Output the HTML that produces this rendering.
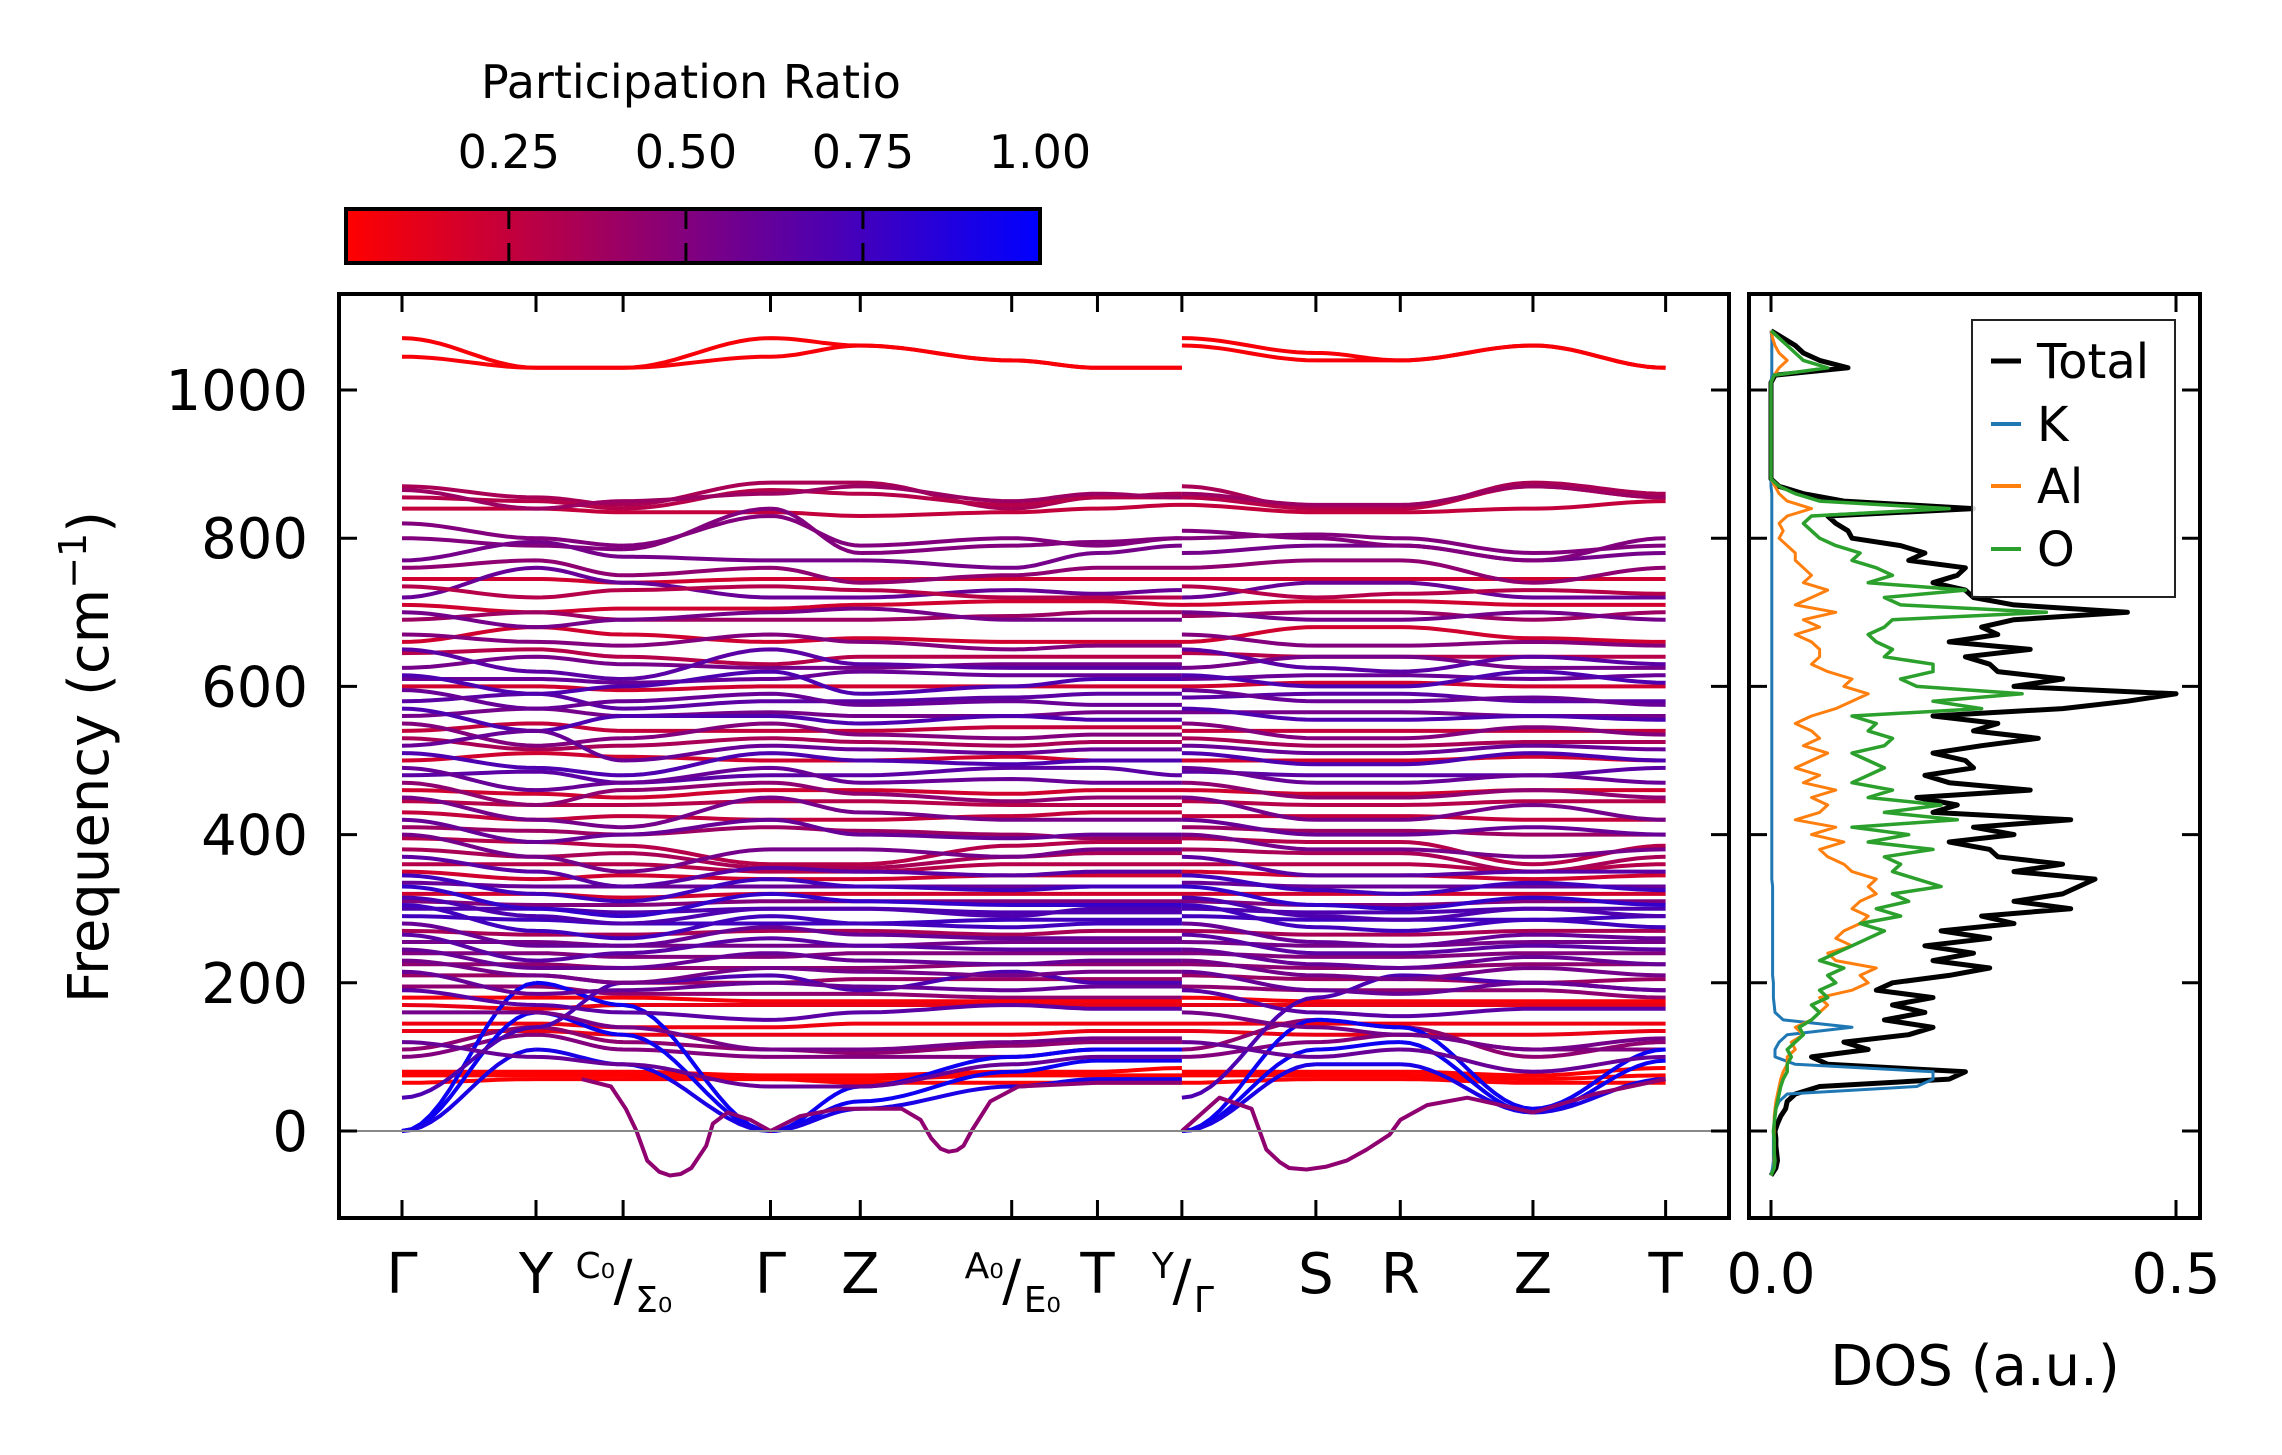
<!DOCTYPE html>
<html><head><meta charset="utf-8">
<style>
html,body{margin:0;padding:0;background:#fff;}
svg{display:block;font-family:"DejaVu Sans","Liberation Sans",sans-serif;}
</style></head>
<body>
<svg id="fig" width="2282" height="1455" viewBox="0 0 2282 1455" xmlns="http://www.w3.org/2000/svg">
<defs>
<linearGradient id="cbgrad" x1="0" x2="1" y1="0" y2="0">
<stop offset="0" stop-color="#ff0000"/><stop offset="1" stop-color="#0000ff"/>
</linearGradient>
<clipPath id="mainclip"><rect x="339" y="294" width="1390" height="924"/></clipPath>
<clipPath id="dosclip"><rect x="1749" y="294" width="451" height="924"/></clipPath>
</defs>
<rect width="2282" height="1455" fill="#fff"/>
<g>
<text x="691" y="98" font-size="46" text-anchor="middle">Participation Ratio</text>
<rect x="346" y="209" width="694" height="54" fill="url(#cbgrad)" stroke="#000" stroke-width="4"/>
<g id="cbticks"></g>
</g>
<g id="main">
<g id="bands" clip-path="url(#mainclip)"></g>
<line x1="339" x2="1729" y1="1131" y2="1131" stroke="#888" stroke-width="2"/>
<rect x="339" y="294" width="1390" height="924" fill="none" stroke="#000" stroke-width="4"/>
<g id="mainticks"></g>
<text transform="translate(108,757) rotate(-90)" font-size="56" text-anchor="middle">Frequency (cm<tspan dy="-22" font-size="38">−1</tspan><tspan dy="22">)</tspan></text>
</g>
<g id="dos">
<g id="dosLines" clip-path="url(#dosclip)"></g>
<rect x="1749" y="294" width="451" height="924" fill="none" stroke="#000" stroke-width="4"/>
<g id="dosticks"></g>
<text x="1975" y="1385" font-size="56" text-anchor="middle">DOS (a.u.)</text>
<g>
<rect x="1972" y="320" width="203" height="277" fill="#fff" fill-opacity="0.85" stroke="#222" stroke-width="2"/>
<line x1="1991" x2="2021" y1="361" y2="361" stroke="#000" stroke-width="5"/>
<text x="2037" y="378" font-size="48">Total</text>
<line x1="1991" x2="2021" y1="424" y2="424" stroke="#1f77b4" stroke-width="4"/>
<text x="2037" y="441" font-size="48">K</text>
<line x1="1991" x2="2021" y1="486" y2="486" stroke="#ff7f0e" stroke-width="4"/>
<text x="2037" y="503" font-size="48">Al</text>
<line x1="1991" x2="2021" y1="549" y2="549" stroke="#2ca02c" stroke-width="4"/>
<text x="2037" y="566" font-size="48">O</text>
</g>
</g>
</svg>
<script>
const kNodes = [0,1.0,1.65,2.75,3.42,4.55,5.19,5.82, 5.82,6.82,7.45,8.44,9.43];
const kLabels = ["Γ","Y","C₀/Σ₀","Γ","Z","A₀/E₀","T","Y/Γ","","S","R","Z","T"];
const freqTicks = [0,200,400,600,800,1000];
const cbTicks = [0.25,0.5,0.75,1.0];
const dosTicks = [0.0,0.5];
const bandFreqs = [
[1070,1030,1030,1070,1060,1040,1030,1030, 1070,1050,1040,1060,1030],
[1045,1030,1030,1045,1060,1040,1030,1030, 1060,1040,1040,1060,1030],
[870,855,845,875,875,840,855,860, 870,840,840,875,860],
[855,850,840,865,860,845,855,855, 855,840,840,870,855],
[840,840,835,835,830,835,840,845, 845,835,835,840,850],
[800,790,785,840,780,790,795,800, 800,805,800,780,790],
[770,795,775,770,770,760,780,790, 780,790,790,770,780],
[745,745,740,745,745,745,745,745, 745,745,745,745,745],
[720,760,740,720,720,730,725,730, 720,740,740,720,720],
[710,700,705,705,710,715,715,710, 710,715,715,710,710],
[690,700,690,690,690,695,700,700, 695,700,700,690,700],
[660,680,670,660,665,660,660,660, 660,680,680,665,660],
[645,650,640,630,640,640,640,640, 645,640,640,640,640],
[625,640,630,625,625,630,630,630, 625,640,640,625,625],
[610,610,605,610,620,615,615,615, 610,615,615,610,615],
[600,600,595,600,600,600,600,600, 600,605,605,600,600],
[580,590,570,580,580,585,590,590, 585,590,590,580,580],
[560,570,560,565,560,560,565,565, 565,565,565,560,560],
[540,550,540,540,540,545,545,545, 540,540,540,540,540],
[530,515,520,530,525,520,525,525, 530,520,520,525,525],
[500,510,505,500,500,505,500,500, 500,500,500,505,500],
[480,485,470,480,480,490,490,480, 485,480,480,480,490],
[460,455,450,460,460,455,460,460, 460,455,455,460,460],
[445,440,440,445,445,440,440,440, 445,440,440,445,445],
[430,420,425,420,420,425,430,430, 425,425,425,420,420],
[410,405,400,410,405,400,395,395, 410,405,405,400,400],
[395,390,385,360,360,385,390,390, 395,390,390,360,385],
[380,370,375,355,355,370,375,375, 380,375,375,350,370],
[360,360,360,350,350,360,360,360, 360,360,360,350,360],
[350,340,345,340,340,345,345,345, 350,345,345,340,345],
[335,330,330,330,330,330,330,330, 335,330,330,330,330],
[320,320,315,320,320,320,320,320, 320,320,320,320,320],
[310,305,305,310,310,310,310,310, 310,305,305,310,310],
[300,300,295,300,300,295,295,295, 300,295,295,300,300],
[290,285,280,280,280,285,285,285, 290,285,285,285,290],
[270,265,265,270,270,265,270,270, 270,265,265,270,270],
[255,255,250,250,250,255,255,255, 255,250,250,255,255],
[240,240,235,235,240,240,240,240, 240,235,235,240,240],
[225,225,220,220,220,225,225,225, 225,220,220,225,225],
[210,210,200,200,205,205,205,205, 210,205,205,200,205],
[195,195,185,185,185,180,180,180, 195,190,190,190,180],
[180,180,180,175,175,175,175,175, 180,175,175,175,175],
[170,165,170,170,170,170,170,170, 170,170,170,170,170],
[145,145,140,140,145,145,145,145, 145,145,145,145,145],
[135,135,130,130,130,130,135,135, 135,130,130,130,135],
[110,140,120,110,105,115,120,120, 110,150,140,100,120],
[100,130,110,100,100,100,110,110, 100,120,130,110,110],
[80,80,80,75,75,80,80,85, 80,80,80,75,85],
[75,75,75,70,70,75,75,75, 75,75,75,70,75],
[65,70,70,70,65,65,65,65, 65,70,70,65,65],
[0,200,170,0,60,100,110,110, 0,150,140,30,110],
[0,160,130,0,40,80,95,95, 0,110,120,25,95],
[0,110,90,0,30,60,70,70, 0,90,90,25,70],
[45,140,200,210,190,215,200,200, 45,180,210,200,190],
[865,840,850,860,870,850,860,855, 860,845,845,870,855],
[820,800,790,830,790,800,790,800, 810,800,790,770,800],
[760,770,750,760,740,750,760,760, 760,770,770,740,760],
[735,720,730,735,730,720,720,720, 735,720,725,730,725],
[700,680,690,700,705,690,690,690, 700,690,690,700,690],
[670,660,655,670,660,650,655,655, 670,655,655,660,655],
[650,620,610,650,630,625,625,625, 650,625,620,640,630],
[615,590,600,620,590,600,610,610, 615,600,600,620,605],
[595,570,580,590,575,580,575,575, 595,580,580,585,575],
[570,540,560,560,550,560,555,555, 570,555,555,560,555],
[550,520,530,550,535,530,535,535, 550,530,530,545,535],
[520,540,500,520,515,510,515,515, 520,510,510,520,515],
[510,490,480,510,500,495,500,500, 510,495,495,510,500],
[490,460,470,490,470,475,470,470, 490,470,470,480,470],
[470,440,460,470,455,445,450,450, 470,450,450,460,450],
[450,420,410,450,430,420,420,420, 450,420,420,440,420],
[420,390,400,420,400,395,400,400, 420,400,400,410,400],
[400,370,350,380,380,370,380,380, 400,380,380,370,380],
[370,350,330,355,350,345,350,350, 370,345,345,350,350],
[345,320,310,340,330,325,330,330, 345,325,320,335,325],
[330,300,290,320,310,305,305,305, 330,305,300,315,305],
[315,290,280,300,300,290,300,300, 315,290,285,300,290],
[305,270,260,290,280,275,280,280, 305,275,270,285,275],
[280,250,250,275,265,260,260,260, 280,255,250,265,260],
[265,230,240,260,250,245,245,245, 265,240,240,250,245],
[245,220,220,240,230,225,230,230, 245,225,220,235,225],
[230,210,200,220,215,210,215,215, 230,210,205,220,210],
[215,185,190,200,195,190,195,195, 215,190,185,200,190],
[190,170,160,150,160,170,165,165, 190,160,155,165,165],
[160,160,140,110,110,120,125,125, 160,140,130,110,125],
[120,100,90,60,60,90,100,100, 120,100,110,80,100]
];
const bandPR = [0.05,0.05,0.35,0.3,0.25,0.5,0.55,0.2,0.6,0.2,0.4,0.2,0.3,0.55,0.6,0.2,0.65,0.55,0.25,0.35,0.2,0.65,0.2,0.3,0.25,0.4,0.3,0.35,0.3,0.2,0.6,0.2,0.5,0.7,0.75,0.35,0.55,0.5,0.45,0.4,0.45,0.05,0.1,0.08,0.1,0.45,0.5,0.03,0.02,0.03,0.95,0.95,0.9,0.7,
0.4,0.5,0.45,0.3,0.55,0.5,0.65,0.7,0.6,0.7,0.5,0.6,0.7,0.6,0.45,0.55,0.6,0.55,0.65,0.75,0.8,0.7,0.75,0.6,0.65,0.6,0.55,0.6,0.65,0.55,0.6];
const softK1 = [1.34,1.56,1.67,1.75,1.83,1.92,2.0,2.08,2.16,2.27,2.32,2.43,2.6,2.75,2.97,3.25,3.52,3.73,3.87,3.95,4.02,4.08,4.14,4.19,4.25,4.39,4.6,5.19,5.82];
const softF1 = [70,60,30,0,-40,-55,-60,-58,-50,-20,10,25,15,0,20,30,30,30,15,-10,-24,-28,-26,-20,0,40,60,65,65];
const softK2 = [5.82,6.1,6.34,6.45,6.55,6.62,6.75,6.9,7.05,7.2,7.37,7.45,7.65,7.95,8.2,8.44,8.9,9.43];
const softF2 = [0,45,30,-25,-42,-50,-52,-48,-40,-25,-5,15,35,45,35,25,50,70];
const softPR = [0.45,0.45];
const dosFreq = [];
for (let f=-60; f<=1080; f+=10) dosFreq.push(f);
const dosTotal = [0,.006,.008,.007,.006,.006,.005,.008,.012,.018,
.02,.03,.06,.22,.24,.07,.05,.12,.09,.17,
.2,.14,.19,.15,.2,.13,.15,.22,.27,.2,
.25,.19,.27,.21,.3,.26,.37,.3,.36,.38,
.4,.3,.36,.28,.27,.22,.3,.25,.37,.2,
.23,.18,.32,.22,.19,.25,.24,.2,.26,.33,
.25,.28,.2,.36,.44,.5,.3,.36,.28,.27,
.24,.32,.22,.28,.26,.3,.44,.3,.25,.24,
.2,.23,.24,.17,.19,.16,.1,.095,.08,.07,
.25,.09,.04,.01,0,0,0,0,0,0,
0,0,0,0,0,0,0,0,.005,.095,
.06,.04,.03,.015,0];
const dosK = [0,.002,.003,.003,.003,.003,.003,.004,.005,.006,
.01,.02,.18,.2,.2,.03,.005,.005,.01,.02,
.1,.015,.005,.004,.003,.003,.003,.002,.002,.002,
.002,.002,.002,.002,.002,.002,.002,.002,.002,.002,
.001,.001,.001,.001,.001,.001,.001,.001,.001,.001,
.001,.001,.001,.001,.001,.001,.001,.001,.001,.001,
.001,.001,.001,.001,.001,.001,.001,.001,.001,.001,
.001,.001,.001,.001,.001,.001,.001,.001,.001,.001,
.001,.001,.001,.001,.001,.001,.001,.001,.001,.001,
.001,.001,.001,0,0,0,0,0,0,0,
0,0,0,0,0,0,0,0,.001,.001,
.001,.001,.001,.001,0];
const dosAl = [0,.004,.004,.004,.004,.004,.004,.004,.004,.005,
.006,.008,.01,.012,.015,.02,.02,.03,.025,.04,
.03,.05,.06,.07,.06,.1,.12,.11,.13,.08,
.07,.1,.08,.09,.11,.12,.1,.11,.13,.12,
.13,.1,.09,.07,.06,.09,.05,.08,.03,.06,
.07,.05,.08,.04,.06,.03,.05,.07,.04,.06,
.05,.03,.05,.08,.1,.12,.09,.1,.07,.05,
.06,.06,.05,.03,.06,.04,.08,.03,.05,.07,
.04,.05,.04,.03,.03,.02,.01,.015,.01,.02,
.05,.02,.01,.005,0,0,0,0,0,0,
0,0,0,0,0,0,0,0,.004,.01,
.02,.01,.005,.002,0];
const dosO = [0,.004,.005,.004,.004,.004,.003,.004,.005,.006,
.008,.01,.012,.015,.02,.02,.025,.02,.03,.04,
.035,.05,.06,.05,.07,.06,.08,.07,.09,.06,
.08,.1,.12,.14,.11,.16,.13,.17,.15,.21,
.18,.15,.16,.14,.2,.12,.17,.1,.23,.14,
.21,.12,.15,.1,.12,.14,.12,.1,.14,.15,
.12,.13,.1,.26,.2,.31,.18,.16,.2,.2,
.14,.15,.13,.12,.14,.15,.34,.16,.14,.24,
.12,.15,.13,.1,.11,.08,.06,.05,.04,.05,
.22,.06,.03,.01,0,0,0,0,0,0,
0,0,0,0,0,0,0,0,.004,.07,
.04,.03,.02,.01,0];

const NS = "http://www.w3.org/2000/svg";
const xK = k => 402 + k*134;
const yF = f => 1131 - f*0.741;
const xD = v => 1771 + v*810;
const xCB = p => 346 + (p-0.02)/0.98*694;
function prColor(p){ let t=(p-0.02)/0.98; t=Math.max(0,Math.min(1,t)); return `rgb(${Math.round(255*(1-t))},0,${Math.round(255*t)})`; }
function mk(tag, attrs, parent){ const e=document.createElementNS(NS,tag); for(const a in attrs) e.setAttribute(a,attrs[a]); parent.appendChild(e); return e; }

const bandsG = document.getElementById('bands');
bandFreqs.forEach((vals, bi) => {
  let d = "";
  for (let i=0;i<kNodes.length-1;i++){
    if (i===7) continue;
    const k0=kNodes[i], k1=kNodes[i+1], a=vals[i], b=vals[i+1];
    for (let s=0;s<=14;s++){
      const t=s/14, w=(1-Math.cos(Math.PI*t))/2;
      const x=xK(k0+(k1-k0)*t), y=yF(a+(b-a)*w);
      d += (s===0 ? "M" : "L") + x.toFixed(1)+","+y.toFixed(1);
    }
  }
  const p = mk('path',{d:d,fill:'none',stroke:prColor(bandPR[bi]),'stroke-width':4,'stroke-linejoin':'round'},bandsG);
  
  
});
[[softK1,softF1],[softK2,softF2]].forEach((pair,si)=>{
  const pts = pair[0].map((k,i)=>xK(k).toFixed(1)+","+yF(pair[1][i]).toFixed(1)).join(" ");
  const p = mk('polyline',{points:pts,fill:'none',stroke:prColor(softPR[si]),'stroke-width':4,'stroke-linejoin':'round'},bandsG);
  
  
});

const mt = document.getElementById('mainticks');
freqTicks.forEach(f=>{
  const y=yF(f);
  mk('line',{x1:339,x2:357,y1:y,y2:y,stroke:'#000','stroke-width':3},mt);
  mk('line',{x1:1711,x2:1729,y1:y,y2:y,stroke:'#000','stroke-width':3},mt);
  const t = mk('text',{x:308,y:y+20,'font-size':56,'text-anchor':'end'},mt);
  t.textContent = f;
  
  
});
kNodes.forEach((k,i)=>{
  if (i===8) return;
  const x=xK(k);
  mk('line',{x1:x,x2:x,y1:1218,y2:1200,stroke:'#000','stroke-width':3},mt);
  mk('line',{x1:x,x2:x,y1:294,y2:312,stroke:'#000','stroke-width':3},mt);
  const lab = kLabels[i];
  if (lab.indexOf('/')>=0){
    const parts = lab.split('/');
    const a = mk('text',{x:x-8,y:1278,'font-size':36,'text-anchor':'end'},mt); a.textContent=parts[0];
    
    
    const s = mk('text',{x:x,y:1300,'font-size':56,'text-anchor':'middle'},mt); s.textContent='/';
    
    
    const b = mk('text',{x:x+12,y:1312,'font-size':36,'text-anchor':'start'},mt); b.textContent=parts[1];
    
    
  } else {
    const t = mk('text',{x:x,y:1293,'font-size':56,'text-anchor':'middle'},mt); t.textContent=lab;
    
    
  }
});

const cbt = document.getElementById('cbticks');
cbTicks.forEach(p=>{
  const x=xCB(p);
  if (p<1){
    mk('line',{x1:x,x2:x,y1:209,y2:229,stroke:'#000','stroke-width':3},cbt);
    mk('line',{x1:x,x2:x,y1:243,y2:263,stroke:'#000','stroke-width':3},cbt);
  }
  const t = mk('text',{x:x,y:168,'font-size':46,'text-anchor':'middle'},cbt);
  t.textContent = p.toFixed(2);
  
  
});

const dl = document.getElementById('dosLines');
[[dosTotal,'#000',5,'dos-total'],[dosK,'#1f77b4',3,'dos-k'],[dosAl,'#ff7f0e',3,'dos-al'],[dosO,'#2ca02c',3.5,'dos-o']].forEach(s=>{
  const pts = s[0].map((v,i)=>xD(v).toFixed(1)+","+yF(dosFreq[i]).toFixed(1)).join(" ");
  const p = mk('polyline',{points:pts,fill:'none',stroke:s[1],'stroke-width':s[2],'stroke-linejoin':'round'},dl);
  
  
});
const dt = document.getElementById('dosticks');
freqTicks.forEach(f=>{
  const y=yF(f);
  mk('line',{x1:1749,x2:1767,y1:y,y2:y,stroke:'#000','stroke-width':3},dt);
  mk('line',{x1:2182,x2:2200,y1:y,y2:y,stroke:'#000','stroke-width':3},dt);
});
dosTicks.forEach(v=>{
  const x=xD(v);
  mk('line',{x1:x,x2:x,y1:1218,y2:1200,stroke:'#000','stroke-width':3},dt);
  mk('line',{x1:x,x2:x,y1:294,y2:312,stroke:'#000','stroke-width':3},dt);
  const t = mk('text',{x:x,y:1293,'font-size':56,'text-anchor':'middle'},dt);
  t.textContent = v.toFixed(1);
  
  
});
</script>
</body></html>
